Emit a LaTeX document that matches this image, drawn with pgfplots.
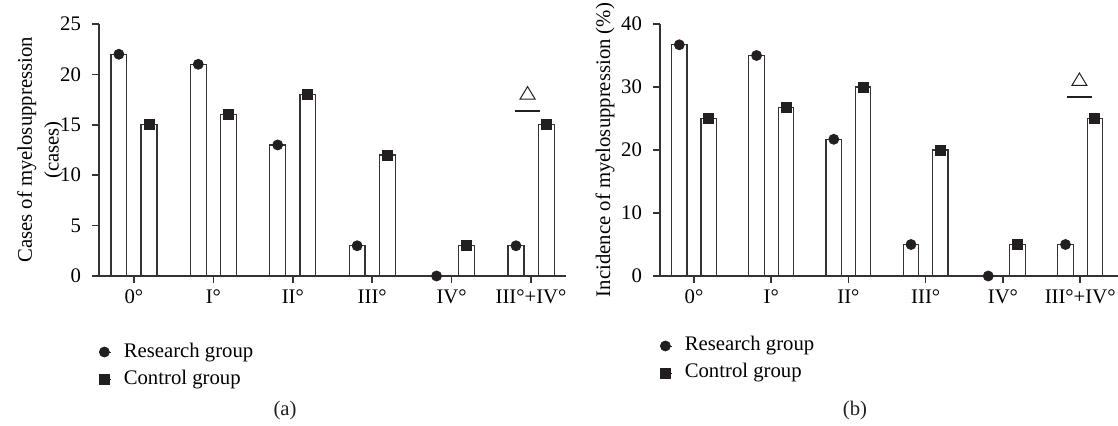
\documentclass[border=0pt]{standalone}
\usepackage{pgfplots}
\pgfplotsset{compat=1.18}
\usepackage{fontspec}
\setmainfont{Liberation Serif}

\definecolor{ink}{HTML}{231F20}
\definecolor{edge}{HTML}{333333}

\pgfplotsset{
  panel/.style={
    scale only axis, height=126bp, anchor=south west,
    axis x line=bottom, axis y line=left,
    axis line style={-, edge, line width=0.75bp},
    tick align=outside, major tick length=3.5bp,
    tick style={edge, line width=0.75bp},
    xtick={0,1,2,3,4,5},
    xticklabels={0°,I°,II°,III°,IV°,III°+IV°},
    yticklabel style={xshift=-2bp},
    xmin=-0.44, ymin=0,
    font=\fontsize{10.4}{13.5}\selectfont,
    /pgf/number format/assume math mode=true,
    every axis y label/.style={rotate=90, anchor=center, align=center,
      font=\fontsize{10.4}{13.5}\selectfont},
    clip=false,
    legend image code/.code={
      \path (0bp,0bp) -- (6bp,0bp);
      \draw[##1] plot coordinates {(2.5bp,0bp)};},
    legend style={anchor=north west, draw=none, fill=none,
      inner sep=0pt, outer sep=0pt, cells={anchor=west},
      row sep=2.5bp,
      nodes={inner sep=0pt, text height=8bp, text depth=3bp},
      /tikz/every odd column/.append style={column sep=6bp},
      font=\fontsize{10.4}{12.5}\selectfont},
  },
  bars/.style={ybar, bar width=0.2, bar shift=0pt, fill=white,
    draw=edge, line width=0.6bp, forget plot},
  rg/.style={only marks, mark=*, mark size=2.5bp, ink},
  cg/.style={only marks, mark=square*, mark size=2.5bp, ink},
}

\begin{document}
\begin{tikzpicture}
\useasboundingbox (0,0) rectangle (559bp,213bp);

% (a) cases
\begin{axis}[panel, at={(49.5bp,75bp)}, width=233.5bp,
  xmax=5.44, ymax=25, ytick={0,5,10,15,20,25},
  ylabel={Cases of myelosuppression\\(cases)},
  ylabel style={at={(axis description cs:-0.126,0.5)}},
  legend style={at={(0,-0.258)}}]
\addplot[bars] coordinates {(-0.19,22) (0.81,21) (1.81,13) (2.81,3) (3.81,0) (4.81,3)};
\addplot[bars] coordinates {(0.19,15) (1.19,16) (2.19,18) (3.19,12) (4.19,3) (5.19,15)};
\addplot[rg] coordinates {(-0.19,22) (0.81,21) (1.81,13) (2.81,3) (3.81,0) (4.81,3)};
\addlegendentry{Research group}
\addplot[cg] coordinates {(0.19,15) (1.19,16) (2.19,18) (3.19,12) (4.19,3) (5.19,15)};
\addlegendentry{Control group}
\draw[edge, line width=0.75bp] (axis cs:-0.44,0) -- ++(-3.5bp,0bp);
\draw[ink, line width=0.5bp] (axis cs:4.956,18.15) ++(-3.75bp,-3bp) -- ++(7.5bp,0bp) -- ++(-3.75bp,6.2bp) -- cycle;
\draw[ink, line width=0.6bp] (axis cs:4.956,16.37) ++(-6.25bp,0bp) -- ++(12.5bp,0bp);
\end{axis}

% (b) incidence
\begin{axis}[panel, at={(330bp,75bp)}, width=229bp,
  xmax=5.49, ymax=40, ytick={0,10,20,30,40},
  ylabel={Incidence of myelosuppression (\%)},
  ylabel style={at={(axis description cs:-0.120,0.5)}},
  legend style={at={(0,-0.234)}}]
\addplot[bars] coordinates {(-0.19,36.7) (0.81,35.0) (1.81,21.7) (2.81,5.0) (3.81,0) (4.81,5.0)};
\addplot[bars] coordinates {(0.19,25.0) (1.19,26.7) (2.19,30.0) (3.19,20.0) (4.19,5.0) (5.19,25.0)};
\addplot[rg] coordinates {(-0.19,36.7) (0.81,35.0) (1.81,21.7) (2.81,5.0) (3.81,0) (4.81,5.0)};
\addlegendentry{Research group}
\addplot[cg] coordinates {(0.19,25.0) (1.19,26.7) (2.19,30.0) (3.19,20.0) (4.19,5.0) (5.19,25.0)};
\addlegendentry{Control group}
\draw[edge, line width=0.75bp] (axis cs:-0.44,0) -- ++(-3.5bp,0bp);
\draw[ink, line width=0.5bp] (axis cs:4.99,31.2) ++(-3.75bp,-3bp) -- ++(7.5bp,0bp) -- ++(-3.75bp,6.2bp) -- cycle;
\draw[ink, line width=0.6bp] (axis cs:4.99,28.4) ++(-6.25bp,0bp) -- ++(12.5bp,0bp);
\end{axis}

\node[font=\fontsize{10.4}{12.5}\selectfont, text=ink] at (142.5bp,7.5bp) {(a)};
\node[font=\fontsize{10.4}{12.5}\selectfont, text=ink] at (427.5bp,7.5bp) {(b)};
\end{tikzpicture}
\end{document}
